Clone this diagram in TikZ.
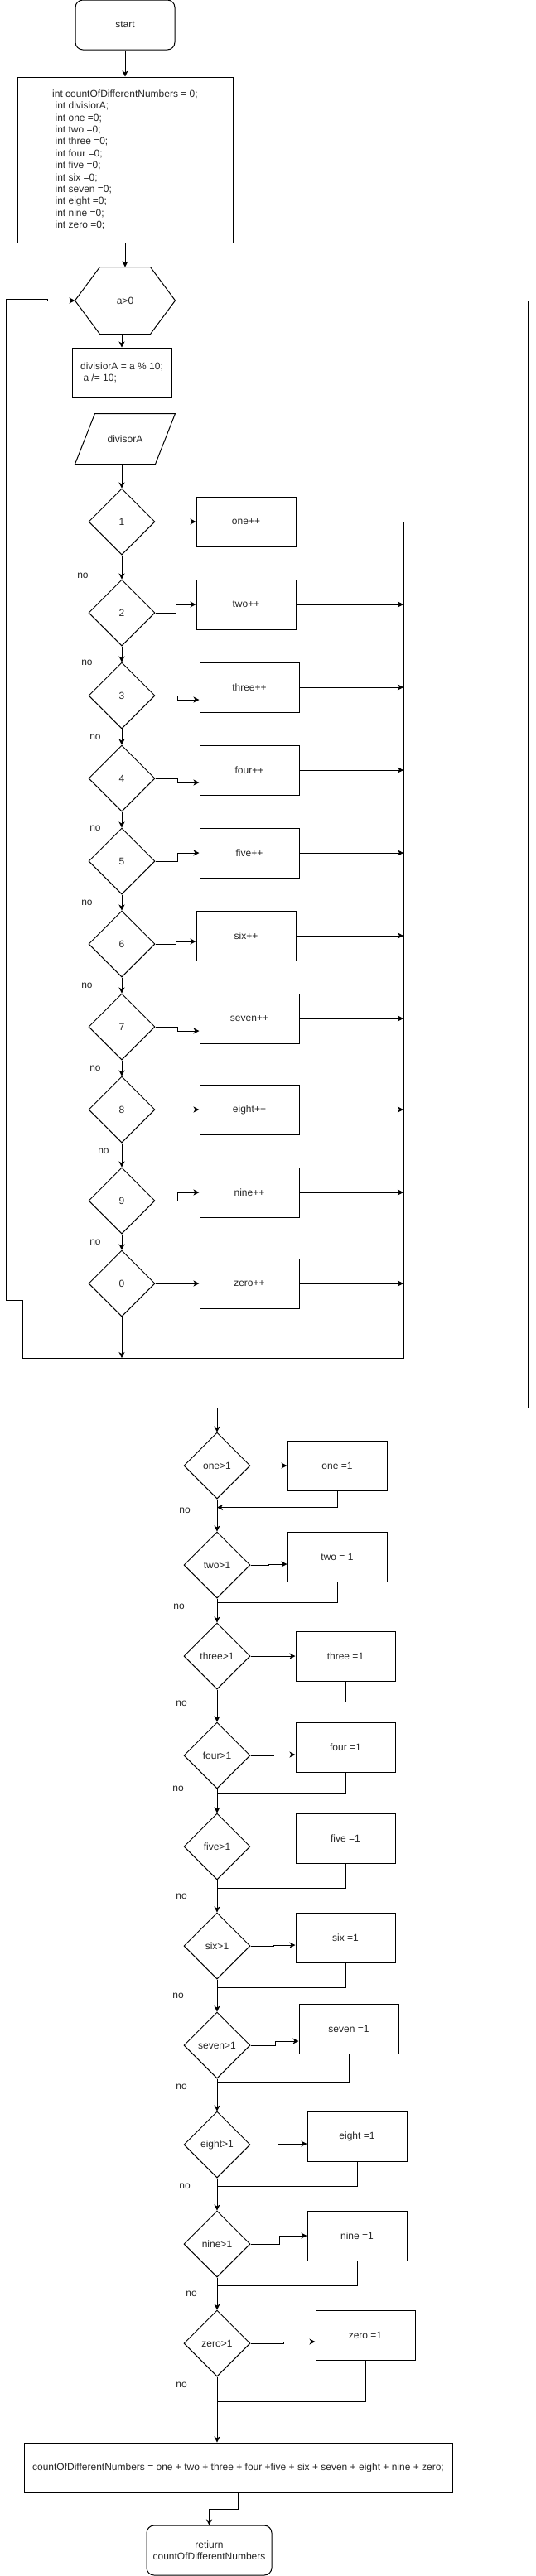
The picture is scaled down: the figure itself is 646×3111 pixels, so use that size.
\documentclass[tikz,border=0pt]{standalone}
\usepackage{fontspec}
\setmainfont{Liberation Sans}
\usetikzlibrary{shapes.geometric,arrows.meta}

\newcommand\indsp{\hspace*{.28em}}

\tikzset{
  flow/.style={-{Stealth[length=7pt,width=7pt,inset=2pt]}},
  box/.style={draw,minimum width=120pt,minimum height=60pt,inner sep=0pt},
  term/.style={box,rounded corners=9pt},
  test/.style={draw,diamond,minimum width=80pt,minimum height=80pt,inner sep=0pt},
  frame/.style={minimum width=120pt,minimum height=#1,inner sep=0pt},
  nolab/.style={inner sep=0pt}
}

\begin{document}
\begin{tikzpicture}[x=1pt,y=-1pt,line width=1pt,font=\fontsize{12}{14.4}\selectfont,text=black!85]
  \useasboundingbox (0,0) rectangle (646,3111);

  % start and declarations
  \node[term] (start) at (151,30) {start};
  \node[box,minimum width=260pt,minimum height=200pt,align=left] (decl) at (151,193)
    {int countOfDifferentNumbers = 0;\\ \indsp int divisiorA;\\ \indsp int one =0;\\
     \indsp int two =0;\\ \indsp int three =0;\\ \indsp int four =0;\\ \indsp int five =0;\\
     \indsp int six =0;\\ \indsp int seven =0;\\ \indsp int eight =0;\\ \indsp int nine =0;\\
     \indsp int zero =0;};

  % loop test
  \node[frame=80pt] (cond) at (151,363) {a>0};
  \draw (cond.west) -- ([xshift=30pt]cond.north west) -- ([xshift=-30pt]cond.north east)
    -- (cond.east) -- ([xshift=-30pt]cond.south east) -- ([xshift=30pt]cond.south west) -- cycle;

  \node[box,align=left] (split) at (147,450) {divisiorA = a \% 10;\\ \indsp a /= 10;};
  \node[frame=60pt] (read) at (151,530) {divisorA};
  \draw ([xshift=24pt]read.north west) -- (read.north east)
    -- ([xshift=-24pt]read.south east) -- (read.south west) -- cycle;

  % digit tests
  \node[test] (d1) at (147,630) {1};
  \node[test] (d2) at (147,740) {2};
  \node[test] (d3) at (147,840) {3};
  \node[test] (d4) at (147,940) {4};
  \node[test] (d5) at (147,1040) {5};
  \node[test] (d6) at (147,1140) {6};
  \node[test] (d7) at (147,1240) {7};
  \node[test] (d8) at (147,1340) {8};
  \node[test] (d9) at (147,1450) {9};
  \node[test] (d0) at (147,1550) {0};

  \node[box] (inc1) at (297,630) {one++};
  \node[box] (inc2) at (297,730) {two++};
  \node[box] (inc3) at (301,830) {three++};
  \node[box] (inc4) at (301,930) {four++};
  \node[box] (inc5) at (301,1030) {five++};
  \node[box] (inc6) at (297,1130) {six++};
  \node[box] (inc7) at (301,1230) {seven++};
  \node[box] (inc8) at (301,1340) {eight++};
  \node[box] (inc9) at (301,1440) {nine++};
  \node[box] (inc0) at (301,1550) {zero++};

  \node[nolab] (no1) at (100,695) {no};
  \node[nolab] (no2) at (105,800) {no};
  \node[nolab] (no3) at (115,890) {no};
  \node[nolab] (no4) at (115,1000) {no};
  \node[nolab] (no5) at (105,1090) {no};
  \node[nolab] (no6) at (105,1190) {no};
  \node[nolab] (no7) at (115,1290) {no};
  \node[nolab] (no8) at (125,1390) {no};
  \node[nolab] (no9) at (115,1500) {no};

  \coordinate (colBot) at (487,1640);
  \coordinate (backA) at (27,1570);
  \coordinate (backB) at (7,361);
  \coordinate (backC) at (57,361);
  \coordinate (exitR) at (637,1700);

  \draw[flow] (start) -- (decl);
  \draw[flow] (decl) -- (cond);
  \draw[flow] (split |- cond.south) -- (split);
  \draw[flow] (d1 |- read.south) -- (d1);
  \draw[flow] (d1) -- (d2);
  \draw[flow] (d2) -- (d3);
  \draw[flow] (d3) -- (d4);
  \draw[flow] (d4) -- (d5);
  \draw[flow] (d5) -- (d6);
  \draw[flow] (d6) -- (d7);
  \draw[flow] (d7) -- (d8);
  \draw[flow] (d8) -- (d9);
  \draw[flow] (d9) -- (d0);
  \draw[flow] (d0) -- (d0.south |- colBot);

  \draw[flow] (d1) -- (inc1);
  \draw[flow] (d2.east) -- ++(25,0) |- (inc2.west);
  \draw[flow] (d3.east) -- ++(27,0) |- ([yshift=-15pt]inc3.west);
  \draw[flow] (d4.east) -- ++(27,0) |- ([yshift=-15pt]inc4.west);
  \draw[flow] (d5.east) -- ++(27,0) |- (inc5.west);
  \draw[flow] (d6.east) -- ++(25,0) |- ([yshift=-7pt]inc6.west);
  \draw[flow] (d7.east) -- ++(27,0) |- ([yshift=-15pt]inc7.west);
  \draw[flow] (d8) -- (inc8);
  \draw[flow] (d9.east) -- ++(27,0) |- (inc9.west);
  \draw[flow] (d0) -- (inc0);

  \draw[flow] (inc2.east) -- (inc2.east -| colBot);
  \draw[flow] (inc3.east) -- (inc3.east -| colBot);
  \draw[flow] (inc4.east) -- (inc4.east -| colBot);
  \draw[flow] (inc5.east) -- (inc5.east -| colBot);
  \draw[flow] (inc6.east) -- (inc6.east -| colBot);
  \draw[flow] (inc7.east) -- (inc7.east -| colBot);
  \draw[flow] (inc8.east) -- (inc8.east -| colBot);
  \draw[flow] (inc9.east) -- (inc9.east -| colBot);
  \draw[flow] (inc0.east) -- (inc0.east -| colBot);

  % back to the loop test
  \draw[flow] (inc1.east) -| (colBot) -| (backA) -| (backB) -- (backC) |- (cond.west);

  % counting the digits found
  \node[test] (e1) at (262,1770) {one>1};
  \node[test] (e2) at (262,1890) {two>1};
  \node[test] (e3) at (262,2000) {three>1};
  \node[test] (e4) at (262,2120) {four>1};
  \node[test] (e5) at (262,2230) {five>1};
  \node[test] (e6) at (262,2350) {six>1};
  \node[test] (e7) at (262,2470) {seven>1};
  \node[test] (e8) at (262,2590) {eight>1};
  \node[test] (e9) at (262,2710) {nine>1};
  \node[test] (e0) at (262,2830) {zero>1};

  \node[box] (set1) at (407,1770) {one =1};
  \node[box] (set2) at (407,1880) {two = 1};
  \node[box] (set3) at (417,2000) {three =1};
  \node[box] (set4) at (417,2110) {four =1};
  \node[box] (set5) at (417,2220) {five =1};
  \node[box] (set6) at (417,2340) {six =1};
  \node[box] (set7) at (421,2450) {seven =1};
  \node[box] (set8) at (431,2580) {eight =1};
  \node[box] (set9) at (431,2700) {nine =1};
  \node[box] (set0) at (441,2820) {zero =1};

  \node[nolab] (nx1) at (223,1824) {no};
  \node[nolab] (nx2) at (216,1940) {no};
  \node[nolab] (nx3) at (219,2057) {no};
  \node[nolab] (nx4) at (215,2160) {no};
  \node[nolab] (nx5) at (219,2290) {no};
  \node[nolab] (nx6) at (215,2410) {no};
  \node[nolab] (nx7) at (219,2520) {no};
  \node[nolab] (nx8) at (223,2640) {no};
  \node[nolab] (nx9) at (231,2770) {no};
  \node[nolab] (nx0) at (219,2880) {no};

  \draw[flow] (cond.east) -| (exitR) -| (e1.north);
  \draw[flow] (e1) -- (e2);
  \draw[flow] (e2) -- (e3);
  \draw[flow] (e3) -- (e4);
  \draw[flow] (e4) -- (e5);
  \draw[flow] (e5) -- (e6);
  \draw[flow] (e6) -- (e7);
  \draw[flow] (e7) -- (e8);
  \draw[flow] (e8) -- (e9);
  \draw[flow] (e9) -- (e0);

  \draw[flow] (e1) -- (set1);
  \draw[flow] (e2.east) -- ++(22,0) |- ([yshift=-9pt]set2.west);
  \draw[flow] (e3) -- (set3);
  \draw[flow] (e4.east) -- ++(28,0) |- ([yshift=-9pt]set4.west);
  \draw (e5.east) -- ([yshift=-10pt]set5.west);
  \draw[flow] (e6.east) -- ++(28,0) |- ([yshift=-9pt]set6.west);
  \draw[flow] (e7.east) -- ++(30,0) |- ([yshift=-15pt]set7.west);
  \draw[flow] (e8.east) -- ++(34,0) |- ([yshift=-9pt]set8.west);
  \draw[flow] (e9.east) -- ++(35,0) |- (set9.west);
  \draw[flow] (e0.east) -- ++(40,0) |- ([yshift=-8pt]set0.west);

  \draw[flow] (set1.south) |- ([yshift=-10pt]e1.south);
  \draw (set2.south) |- ([yshift=-5pt]e2.south);
  \draw (set3.south) |- ([yshift=-15pt]e3.south);
  \draw (set4.south) |- ([yshift=-5pt]e4.south);
  \draw (set5.south) |- ([yshift=-10pt]e5.south);
  \draw (set6.south) |- ([yshift=-10pt]e6.south);
  \draw (set7.south) |- ([yshift=-5pt]e7.south);
  \draw (set8.south) |- ([yshift=-10pt]e8.south);
  \draw (set9.south) |- ([yshift=-10pt]e9.south);
  \draw (set0.south) |- ([yshift=-30pt]e0.south);

  % result
  \node[box,minimum width=517pt] (total) at (287.5,2980)
    {countOfDifferentNumbers = one + two + three + four +five + six + seven + eight + nine + zero;};
  \node[term,minimum width=151pt,align=center] (ret) at (252.5,3080) {retiurn\\countOfDifferentNumbers};

  \draw[flow] (e0.south) -- (e0.south |- total.north);
  \draw[flow] (total.south) -- ++(0,20) -| (ret.north);
\end{tikzpicture}
\end{document}
